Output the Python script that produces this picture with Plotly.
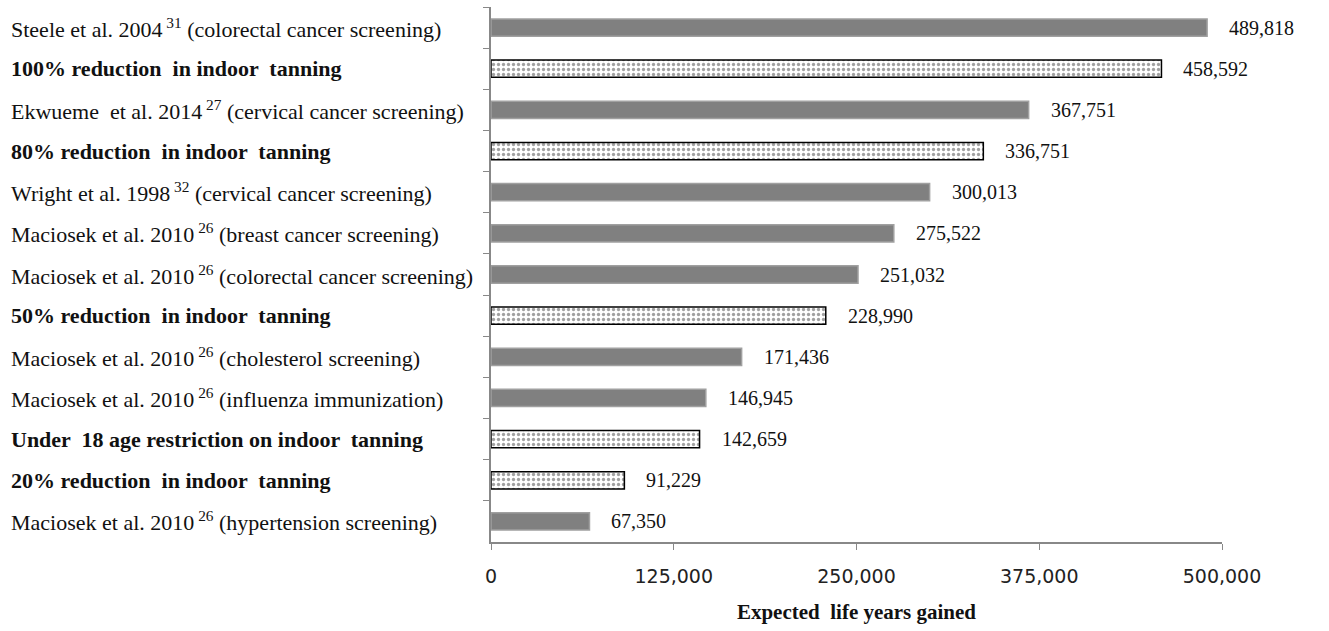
import plotly.graph_objects as go

labels = [
    "Steele et al. 2004<sup> 31</sup> (colorectal cancer screening)",
    "<b>100% reduction  in indoor  tanning</b>",
    "Ekwueme  et al. 2014<sup> 27</sup> (cervical cancer screening)",
    "<b>80% reduction  in indoor  tanning</b>",
    "Wright et al. 1998<sup> 32</sup> (cervical cancer screening)",
    "Maciosek et al. 2010<sup> 26</sup> (breast cancer screening)",
    "Maciosek et al. 2010<sup> 26</sup> (colorectal cancer screening)",
    "<b>50% reduction  in indoor  tanning</b>",
    "Maciosek et al. 2010<sup> 26</sup> (cholesterol screening)",
    "Maciosek et al. 2010<sup> 26</sup> (influenza immunization)",
    "<b>Under  18 age restriction on indoor  tanning</b>",
    "<b>20% reduction  in indoor  tanning</b>",
    "Maciosek et al. 2010<sup> 26</sup> (hypertension screening)",
]
values = [489818, 458592, 367751, 336751, 300013, 275522, 251032,
          228990, 171436, 146945, 142659, 91229, 67350]
is_tanning = [False, True, False, True, False, False, False,
              True, False, False, True, True, False]
xticks = [0, 125000, 250000, 375000, 500000]
xtick_text = ["0", "125,000", "250,000", "375,000", "500,000"]

cats = [f"c{i}" for i in range(len(labels))]

fig = go.Figure()
fig.add_trace(go.Bar(
    y=cats, x=values, orientation="h",
    marker=dict(
        color=["white" if t else "#808080" for t in is_tanning],
        line=dict(color=["black" if t else "#a0a0a0" for t in is_tanning], width=1.5),
        pattern=dict(
            shape=["." if t else "" for t in is_tanning],
            fgcolor="#222", bgcolor="white", size=5, solidity=0.35,
        ),
    ),
    hoverinfo="skip",
))

PLOT_L, PLOT_R = 491, 1222
pw = PLOT_R - PLOT_L
for c, lab, v in zip(cats, labels, values):
    fig.add_annotation(x=-(PLOT_L - 9) / pw, xref="paper", y=c, yref="y",
                       text=lab, showarrow=False, xanchor="left",
                       font=dict(family="Liberation Serif", size=22, color="#111"))
    fig.add_annotation(x=v, y=c, text=f"{v:,}", showarrow=False, xanchor="left",
                       xshift=20, font=dict(family="Liberation Serif", size=20, color="#111"))

fig.update_layout(
    width=1329, height=631,
    margin=dict(l=PLOT_L, r=1329 - PLOT_R, t=7, b=89),
    plot_bgcolor="white", paper_bgcolor="white",
    bargap=0.58, showlegend=False,
    xaxis=dict(range=[0, 500000], tickvals=xticks, ticktext=xtick_text,
               showgrid=False, zeroline=False, showline=True, linecolor="#888",
               linewidth=1.5, ticks="outside", ticklen=6, tickcolor="#888",
               ticklabelstandoff=10,
               tickfont=dict(family="DejaVu Sans", size=19, color="#222"),
               title=dict(text="<b>Expected  life years gained</b>",
                          font=dict(family="Liberation Serif", size=21, color="#111"),
                          standoff=19)),
    yaxis=dict(autorange="reversed", showticklabels=False, showgrid=False,
               showline=True, linecolor="#888", linewidth=1.5, ticks="outside",
               ticklen=6, tickcolor="#888", tickson="boundaries"),
)

fig.write_html("out.html")
